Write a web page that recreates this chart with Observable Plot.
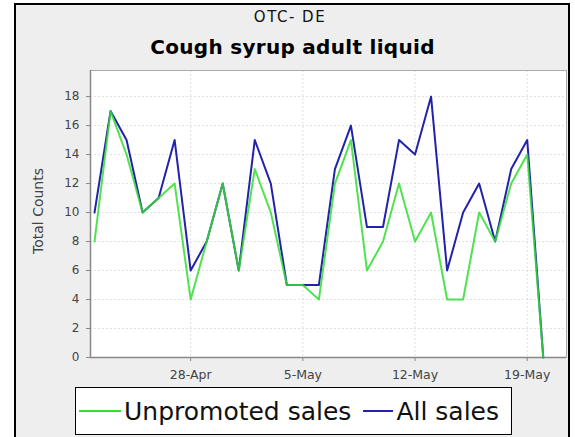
<!DOCTYPE html>
<html><head><meta charset="utf-8">
<script src="https://cdn.jsdelivr.net/npm/d3@7"></script>
<script src="https://cdn.jsdelivr.net/npm/@observablehq/plot@0.6"></script>
<style>
body{margin:0;background:#fff;font-family:"DejaVu Sans",sans-serif;}
#wrap{position:relative;width:575px;height:437px;overflow:hidden;background:#fff;}
#panel{position:absolute;left:14px;top:3px;width:552px;height:440px;border:2px solid #000;border-bottom:none;background:#eeeeee;}
#chart{position:absolute;left:0;top:0;}
#t1{position:absolute;left:0;width:580px;top:8px;text-align:center;font-size:15px;color:#111;letter-spacing:1.5px;}
#t2{position:absolute;left:0;width:585px;top:35px;text-align:center;font-size:20px;font-weight:bold;color:#000;letter-spacing:0.3px;}
#legend{position:absolute;left:75px;top:387px;width:435px;height:46px;border:1px solid #000;background:#fff;display:flex;align-items:center;font-size:25px;color:#111;}
.sw{display:inline-block;height:2px;margin-right:3px;}
</style></head>
<body>
<div id="wrap">
  <div id="panel"></div>
  <div id="t1"></div>
  <div id="t2"></div>
  <div id="chart"></div>
  <div id="legend"></div>
</div>
<script>
const subtitle = "OTC- DE";
const title = "Cough syrup adult liquid";
const yLabel = "Total Counts";
const seriesNames = ["Unpromoted sales", "All sales"];
const seriesColors = ["#33dd33", "#2222aa"];
const startDate = "2008-04-22";
const allSales   = [10,17,15,10,11,15,6,8,12,6,15,12,5,5,5,13,16,9,9,15,14,18,6,10,12,8,13,15,0];
const unpromoted = [8,17,14,10,11,12,4,8,12,6,13,10,5,5,4,12,15,6,8,12,8,10,4,4,10,8,12,14,0];
const xTickDates = ["2008-04-28","2008-05-05","2008-05-12","2008-05-19"];
const yTicks = [0,2,4,6,8,10,12,14,16,18];

const day = 86400000;
const t0 = new Date(startDate + "T00:00:00Z");
const rows = allSales.map((v, i) => ({date: new Date(+t0 + i * day), all: v, unpromoted: unpromoted[i]}));
const ticks = xTickDates.map(d => new Date(d + "T00:00:00Z"));
const xDomain = [new Date(+t0 - 0.25 * day), new Date(+t0 + 29.45 * day)];
const fmt = d3.utcFormat("%-d-%b");

document.getElementById("t1").textContent = subtitle;
document.getElementById("t2").textContent = title;

const chart = Plot.plot({
  width: 575, height: 437,
  marginLeft: 90, marginRight: 9, marginTop: 70, marginBottom: 80,
  style: {background: "transparent", fontFamily: "DejaVu Sans", fontSize: "12px", color: "#444", overflow: "visible"},
  x: {type: "utc", domain: xDomain},
  y: {domain: [0, 19.8]},
  marks: [
    Plot.frame({fill: "white"}),
    Plot.gridY(yTicks, {stroke: "#ccc", strokeOpacity: 0.6, strokeDasharray: "2,2"}),
    Plot.gridX(ticks, {stroke: "#ccc", strokeOpacity: 0.6, strokeDasharray: "2,2"}),
    Plot.frame({stroke: "#aaa"}),
    Plot.axisX(ticks, {tickFormat: fmt, tickSize: 4, tickPadding: 9, stroke: "#888", label: null, fontSize: 12.5, style: {letterSpacing: "0.8px"}}),
    Plot.axisY(yTicks, {tickSize: 4, tickPadding: 7, stroke: "#888", label: null}),
    Plot.ruleX([xDomain[0]], {stroke: "#888", strokeWidth: 1.5}),
    Plot.ruleY([0], {stroke: "#888", strokeWidth: 1.5}),
    Plot.text([yLabel], {frameAnchor: "left", textAnchor: "middle", text: d => d, rotate: -90, dx: -52, dy: -3, fontSize: 14, fill: "#444"}),
    Plot.lineY(rows, {x: "date", y: "all", stroke: seriesColors[1], strokeWidth: 2}),
    Plot.lineY(rows, {x: "date", y: "unpromoted", stroke: seriesColors[0], strokeWidth: 2, strokeOpacity: 0.85})
  ]
});
document.getElementById("chart").appendChild(chart);

const legend = document.getElementById("legend");
const widths = [42, 30];
const gaps = [3, 12];
seriesNames.forEach((name, i) => {
  const sw = document.createElement("span");
  sw.className = "sw";
  sw.style.width = widths[i] + "px";
  sw.style.background = seriesColors[i];
  sw.style.marginLeft = gaps[i] + "px";
  legend.appendChild(sw);
  const tx = document.createElement("span");
  tx.textContent = name;
  legend.appendChild(tx);
});
</script>
</body></html>
